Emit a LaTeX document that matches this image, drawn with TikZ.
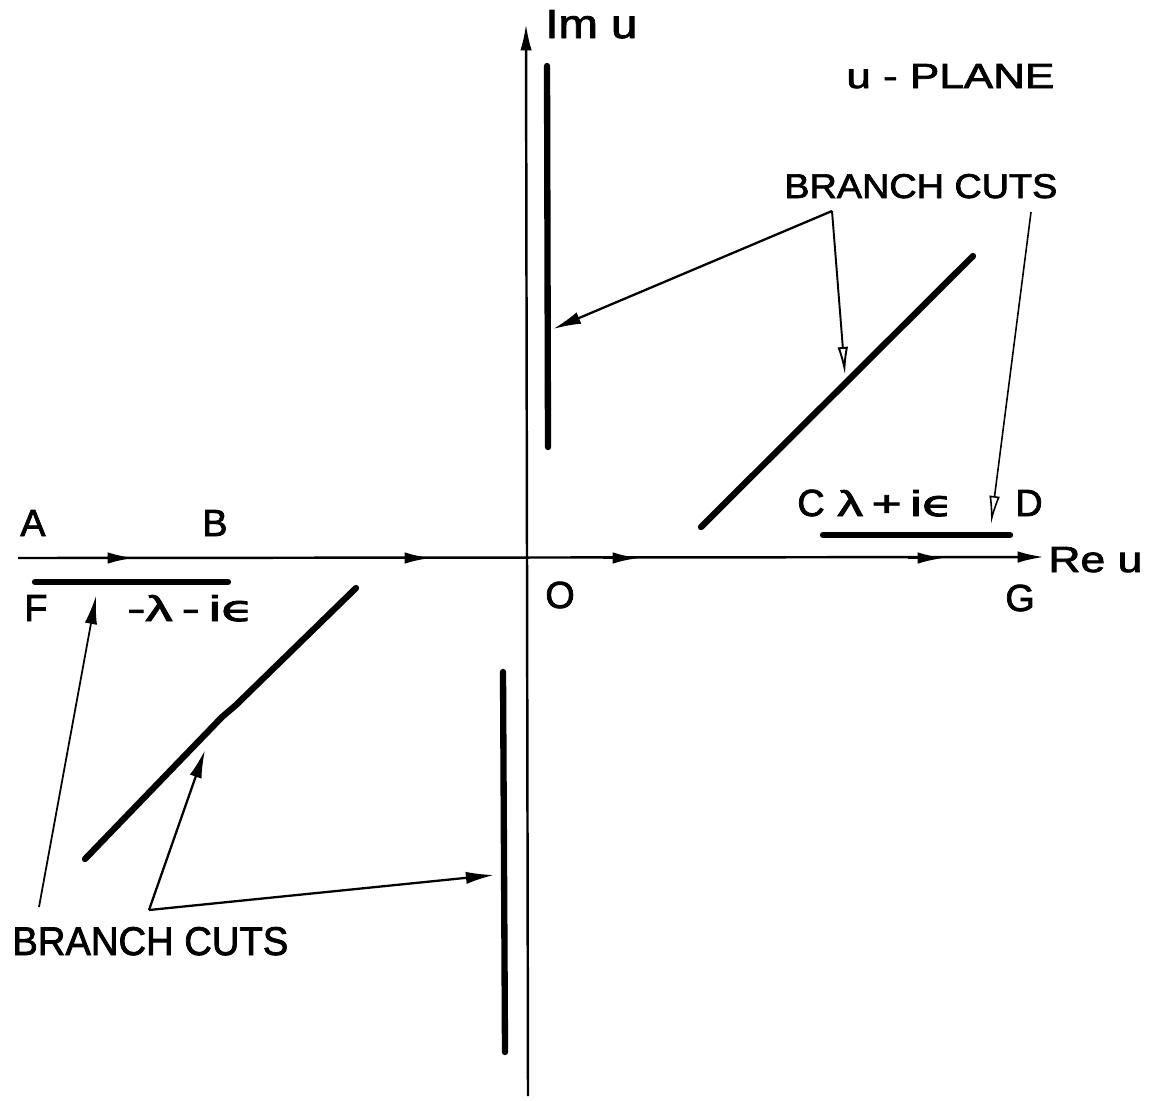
\documentclass[tikz,border=0pt]{standalone}
\usepackage{graphicx}
\usepackage{fontspec}
\setmainfont{Liberation Sans}[FakeBold=2]
\newfontfamily\djv{DejaVu Sans}[FakeBold=2]
\usetikzlibrary{arrows.meta}
\newlength\pxu
\setlength\pxu{0.02cm}
\newcommand\fitbox[3]{\resizebox{#1\pxu}{#2\pxu}{#3}}
\begin{document}
\begin{tikzpicture}[x=0.02cm,y=-0.02cm,
  axis/.style={line width=1.4pt},
  cut/.style={line width=3.6pt,line cap=round},
  ptr/.style={line width=1.3pt,-{Latex[length=16pt,width=7pt]}},
  optr/.style={line width=1.1pt,-{Latex[open,length=16pt,width=6pt]}},
  tip/.style={-{Latex[length=15pt,width=6.5pt]}},
  lbl/.style={font=\fontsize{21.5}{23}\selectfont,inner sep=0pt,anchor=base west},
  txt/.style={inner sep=0pt,anchor=base west}]
\useasboundingbox (0,0) rectangle (1151,1100);
% axes
\coordinate (xs) at (18,558);
\coordinate (xe) at (1044,557);
\coordinate (ys) at (528,1096);
\coordinate (ye) at (526,24);
\draw[axis,tip] (xs) -- (xe);
\draw[axis,tip] (ys) -- (ye);
% mid arrows on the real axis
\foreach \a/\b in {98/134,395/431,603/639,908/944}
  \draw[axis,tip] (\a,558) -- (\b,558);
% branch cuts
\coordinate (uv1) at (547,66);   \coordinate (uv2) at (548,447);
\coordinate (ud1) at (701,527);  \coordinate (ud2) at (973,256);
\coordinate (uh1) at (823,535);  \coordinate (uh2) at (1010,535);
\coordinate (lh1) at (35,582);   \coordinate (lh2) at (228,582);
\coordinate (ld1) at (85,859);   \coordinate (ldk1) at (222,717);
\coordinate (ldk2) at (236,705); \coordinate (ld2) at (356,588);
\coordinate (lv1) at (503,672);  \coordinate (lv2) at (505,1052);
\draw[cut] (uv1) -- (uv2);
\draw[cut] (ud1) -- (ud2);
\draw[cut] (uh1) -- (uh2);
\draw[cut] (lh1) -- (lh2);
\draw[cut,line join=round] (ld1) -- (ldk1) -- (ldk2) -- (ld2);
\draw[cut] (lv1) -- (lv2);
% labels
\node[txt] (imu) at (545,38) {\fitbox{92}{28}{Im u}};
\node[txt] (reu) at (1048,572) {\fitbox{94}{25}{Re u}};
\node[txt] (plane) at (846,88) {\fitbox{208}{24}{u - PLANE}};
\node[txt] (bct) at (784,198) {\fitbox{273}{24}{BRANCH CUTS}};
\node[txt] (bcb) at (12,955) {\fitbox{276}{28}{BRANCH CUTS}};
\node[lbl] (A) at (20,536) {A};
\node[lbl] (B) at (202,536) {B};
\node[lbl] (F) at (24,621) {F};
\node[txt] (ml) at (127,621) {\fitbox{127}{26}{-λ\,-\,i{\djv ϵ}}};
\node[lbl] (O) at (545,608) {O};
\node[lbl] (C) at (797,516) {C};
\node[txt] (pl) at (837,516) {\fitbox{116}{26}{λ\,+\,i{\djv ϵ}}};
\node[lbl] (D) at (1015,516) {D};
\node[lbl] (G) at (1005,611) {G};
% pointer arrows (top)
\coordinate (tj) at (832,211);
\coordinate (tr) at (1031,212);
\coordinate (tva) at (553,329);
\coordinate (tda) at (845,375);
\coordinate (tha) at (991,524);
\draw[ptr] (tj) -- (tva);
\draw[optr] (tj) -- (tda);
\draw[optr,line width=0.9pt] (tr) -- (tha);
% pointer arrows (bottom)
\coordinate (bj) at (149,910);
\coordinate (bf) at (39,907);
\coordinate (bfa) at (96,596);
\coordinate (bda) at (205,750);
\coordinate (bva) at (494,875);
\draw[ptr,line width=1pt] (bf) -- (bfa);
\draw[ptr] (bj) -- (bda);
\draw[ptr] (bj) -- (bva);
\end{tikzpicture}
\end{document}
